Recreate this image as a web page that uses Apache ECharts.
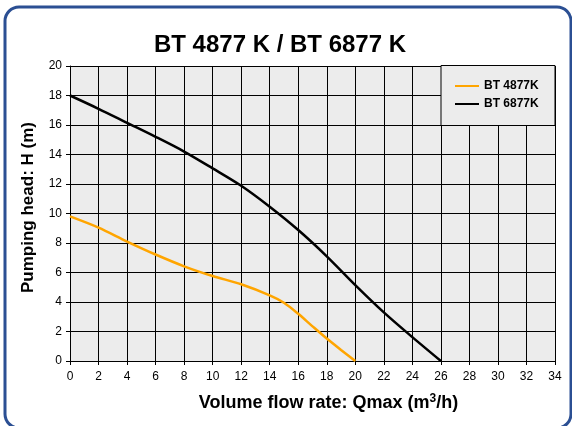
<!DOCTYPE html>
<html><head><meta charset="utf-8">
<script src="https://cdn.jsdelivr.net/npm/echarts@6/dist/echarts.min.js"></script>
<style>html,body{margin:0;padding:0;background:#fff}#c{width:572px;height:426px}</style>
</head><body><div id="c"></div>
<script>
const title = "BT 4877 K / BT 6877 K";
const xTicks = [0,2,4,6,8,10,12,14,16,18,20,22,24,26,28,30,32,34];
const yTicks = [0,2,4,6,8,10,12,14,16,18,20];
const seriesNames = ["BT 4877K", "BT 6877K"];
const flow4877 = [0, 2, 4, 6, 8, 10, 12, 14, 15, 16, 17, 18, 19, 20];
const head4877 = [9.8, 9.04, 8.1, 7.22, 6.42, 5.76, 5.2, 4.45, 3.95, 3.2, 2.35, 1.52, 0.75, 0];
const flow6877 = [0, 2, 4, 6, 8, 10, 12, 14, 16, 18, 20, 22, 24, 26];
const head6877 = [18, 17.1, 16.15, 15.2, 14.2, 13.06, 11.88, 10.46, 8.88, 7.1, 5.15, 3.3, 1.62, 0];
const colors = ["#ffa500", "#000000"];

const pair = (xs, ys) => xs.map((x, i) => [x, ys[i]]);
const chart = echarts.init(document.getElementById('c'), null, {renderer: 'canvas'});
const font = "'Liberation Sans', Arial, sans-serif";
chart.setOption({
  animation: false,
  textStyle: {fontFamily: font},
  title: {text: title, left: 275, textAlign: 'center', top: 28,
    textStyle: {fontSize: 24, fontWeight: 'bold', color: '#000', fontFamily: font}},
  grid: {left: 70, right: 17, top: 66, bottom: 65, show: true, backgroundColor: '#ececec', borderWidth: 0},
  xAxis: {type: 'value', min: xTicks[0], max: xTicks[xTicks.length-1], interval: 2,
    name: 'Volume flow rate: Qmax (m{sup|3}/h)', nameLocation: 'middle', nameGap: 32,
    nameTextStyle: {fontSize: 18, fontWeight: 'bold', color: '#000', fontFamily: font,
      padding: [0, 0, 0, 32],
      rich: {sup: {fontSize: 12, fontWeight: 'bold', color: '#000', fontFamily: font, verticalAlign: 'top', padding: [0, 0, 8, 0]}}},
    axisLine: {onZero: false, lineStyle: {color: '#000', width: 1}},
    axisTick: {show: true, length: 4, lineStyle: {color: '#000'}},
    axisLabel: {color: '#000', fontSize: 12, margin: 10, fontFamily: font},
    splitLine: {show: true, lineStyle: {color: '#000', width: 1}}},
  yAxis: {type: 'value', min: yTicks[0], max: yTicks[yTicks.length-1], interval: 2,
    name: 'Pumping head: H (m)', nameLocation: 'middle', nameGap: 33,
    nameTextStyle: {fontSize: 17, fontWeight: 'bold', color: '#000', fontFamily: font, padding: [0, 0, 0, 12]},
    axisLine: {show: true, onZero: false, lineStyle: {color: '#000', width: 1}},
    axisTick: {show: true, length: 4, lineStyle: {color: '#000'}},
    axisLabel: {color: '#000', fontSize: 12, margin: 8, fontFamily: font},
    splitLine: {show: true, lineStyle: {color: '#000', width: 1}}},
  legend: {orient: 'vertical', left: 450, top: 75, itemGap: 6, itemWidth: 24, itemHeight: 2,
    icon: 'rect', data: seriesNames, z: 20,
    textStyle: {fontSize: 12, fontWeight: 'bold', color: '#000', fontFamily: font}},
  graphic: [
    {type: 'rect', z: 10, shape: {x: 441, y: 65.5, width: 114, height: 60},
      style: {fill: '#ececec', stroke: '#000', lineWidth: 1}},
    {type: 'rect', z: 30, shape: {x: 5, y: 7, width: 566, height: 421, r: 14},
      style: {fill: 'none', stroke: '#2b4f93', lineWidth: 3}}
  ],
  series: [
    {name: seriesNames[0], type: 'line', data: pair(flow4877, head4877), smooth: 0.3,
      showSymbol: false, lineStyle: {color: colors[0], width: 2.5}, itemStyle: {color: colors[0]}},
    {name: seriesNames[1], type: 'line', data: pair(flow6877, head6877), smooth: 0.3,
      showSymbol: false, lineStyle: {color: colors[1], width: 2.5}, itemStyle: {color: colors[1]}}
  ]
});
</script></body></html>
